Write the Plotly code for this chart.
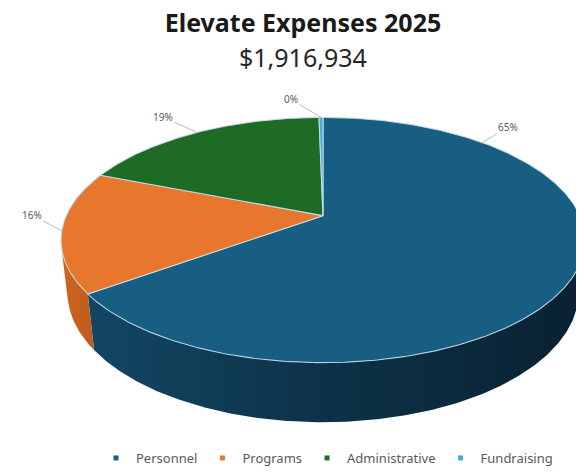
import numpy as np
import plotly.graph_objects as go

# ---------------- data ----------------
categories = ["Personnel", "Programs", "Administrative", "Fundraising"]
amounts = [1246000, 306700, 358500, 5734]
title_text = "Elevate Expenses 2025"
total_label = "$1,916,934"

# ---------------- styles ----------------
TOP_COLORS = ["#175e82", "#e8772e", "#1e6b26", "#4ea8d9"]
SIDE_SCALES = [
    [[0, "#124663"], [0.5, "#0d3147"], [1, "#0a2131"]],
    [[0, "#cf6621"], [1, "#bd5a1b"]],
    [[0, "#18561e"], [1, "#113f16"]],
    [[0, "#3f8fbb"], [1, "#2f7aa3"]],
]
# the page body adds an 8px margin, so the figure is 8px smaller and
# every position is expressed relative to the figure's own corner
OFF = 8
W, H = 584 - OFF, 473 - OFF
CX, CY = 323 - OFF, 217 - OFF   # screen position of the pie centre
FOCAL = 1148                    # perspective focal length (px)
DIST = 4.47                     # camera distance (in radii)
TILT = np.deg2rad(27.5)         # view elevation
THICK = 0.233                   # pie thickness (in radii)
LABEL_OFFSETS = [(26, -16), (-30, -16), (-34, -15), (-30, -18)]
PERSONNEL_LABEL_ANGLE = 45      # Excel "best fit" placement of the first label


def project(theta_deg, h=0.0, r=1.0):
    th = np.deg2rad(theta_deg)
    x = r * np.sin(th)
    z = r * np.cos(th)
    s, c = np.sin(TILT), np.cos(TILT)
    v = h * c + z * s
    w = -h * s + z * c
    return CX + FOCAL * x / (DIST + w), CY - FOCAL * v / (DIST + w)


vals = np.array(amounts, dtype=float)
fracs = vals / vals.sum()
ends = np.cumsum(fracs) * 360.0
starts = ends - fracs * 360.0

# visible range of the cylinder wall (silhouette tangents)
t_vis = np.rad2deg(np.arccos(-1.0 / (DIST * np.cos(TILT))))
vis_lo, vis_hi = t_vis, 360.0 - t_vis

fig = go.Figure()

# side walls
for i, cat in enumerate(categories):
    a0, a1 = max(starts[i], vis_lo), min(ends[i], vis_hi)
    if a1 <= a0:
        continue
    n = max(3, int((a1 - a0) * 2))
    th = np.linspace(a0, a1, n)
    xt, yt = project(th, 0.0)
    xb, yb = project(th[::-1], -THICK)
    xs = np.concatenate([xt, xb, xt[:1]])
    ys = np.concatenate([yt, yb, yt[:1]])
    fig.add_trace(go.Scatter(
        x=xs, y=ys, mode="lines", fill="toself",
        line=dict(width=0, color=TOP_COLORS[i]),
        fillcolor=TOP_COLORS[i],
        fillgradient=dict(type="horizontal", colorscale=SIDE_SCALES[i]),
        hoverinfo="skip", showlegend=False))

# top faces
for i, cat in enumerate(categories):
    n = max(3, int((ends[i] - starts[i]) * 2))
    th = np.linspace(starts[i], ends[i], n)
    xt, yt = project(th, 0.0)
    cx0, cy0 = project(0.0, 0.0, 0.0)
    xs = np.concatenate([[cx0], xt, [cx0]])
    ys = np.concatenate([[cy0], yt, [cy0]])
    fig.add_trace(go.Scatter(
        x=xs, y=ys, mode="lines", fill="toself",
        line=dict(width=1.1, color="rgba(200,225,240,0.85)"),
        fillcolor=TOP_COLORS[i],
        hoverinfo="skip", showlegend=False, name=cat))

# legend entries
for i, cat in enumerate(categories):
    fig.add_trace(go.Scatter(
        x=[None], y=[None], mode="markers", name=cat,
        marker=dict(symbol="square", size=5, color=TOP_COLORS[i])))

# data labels with leader lines
for i, cat in enumerate(categories):
    ang = (starts[i] + ends[i]) / 2.0
    if i == 0:
        ang = PERSONNEL_LABEL_ANGLE
    ax_, ay_ = project(ang, 0.0)
    pct = f"{round(fracs[i] * 100):.0f}%"
    fig.add_annotation(
        x=float(ax_), y=float(ay_), xref="x", yref="y",
        text=pct, showarrow=True, arrowhead=0, arrowwidth=0.8,
        arrowcolor="#a6a6a6", standoff=0,
        ax=LABEL_OFFSETS[i][0], ay=LABEL_OFFSETS[i][1],
        font=dict(family="Noto Sans", size=10, color="#595959"))

# subtitle (total)
fig.add_annotation(
    x=(303 - OFF) / W, y=1 - (57 - OFF) / H, xref="paper", yref="paper",
    text=total_label, showarrow=False, xanchor="center", yanchor="middle",
    font=dict(family="Noto Sans", size=25, color="#262626"))

fig.update_layout(
    width=W, height=H, autosize=False,
    margin=dict(l=0, r=0, t=0, b=0),
    paper_bgcolor="white", plot_bgcolor="white",
    title=dict(text=f"<b>{title_text}</b>", x=(303 - OFF) / W, xanchor="center",
               y=1 - 6 / H, yanchor="top", yref="container",
               pad=dict(t=0, b=0, l=0, r=0),
               font=dict(family="Noto Sans", size=25, color="#1a1a1a")),
    xaxis=dict(range=[0, W], visible=False, fixedrange=True),
    yaxis=dict(range=[H, 0], visible=False, fixedrange=True),
    showlegend=True,
    legend=dict(orientation="h", x=(327 - OFF) / W, xanchor="center",
                y=1 - (461 - OFF) / H, yanchor="middle",
                font=dict(family="Noto Sans", size=13, color="#595959"),
                bgcolor="rgba(0,0,0,0)", itemwidth=30, traceorder="normal"),
)

fig.write_html("out.html")
